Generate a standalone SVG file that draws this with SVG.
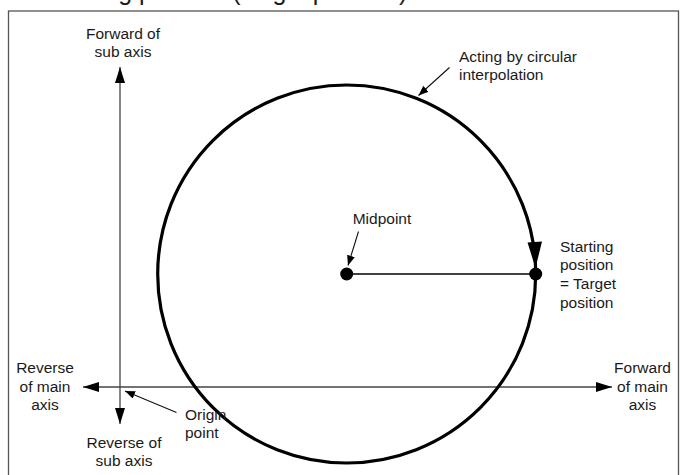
<svg xmlns="http://www.w3.org/2000/svg" width="680" height="475" viewBox="0 0 680 475">
<defs>
<style>
text{font-family:"Liberation Sans",Arial,sans-serif;font-size:15.5px;fill:#1a1a1a}
.c{text-anchor:middle}
.axis{stroke:#444;stroke-width:1.3;fill:none}
.ptr{stroke:#111;stroke-width:1.1;fill:none}
</style>
<marker id="big" viewBox="0 0 16 10" refX="16" refY="5" markerWidth="16" markerHeight="10" markerUnits="userSpaceOnUse" orient="auto">
<path d="M0,0 L16,5 L0,10 Z" fill="#000"/>
</marker>
<marker id="small" viewBox="0 0 10 8" refX="10" refY="4" markerWidth="10" markerHeight="8" markerUnits="userSpaceOnUse" orient="auto">
<path d="M0,0 L10,4 L0,8 Z" fill="#000"/>
</marker>
</defs>
<rect x="0" y="0" width="680" height="475" fill="#fff"/>
<text x="46" y="0" style="font-size:25px">Starting position (single position)</text>
<rect x="8.5" y="11" width="670" height="480" fill="none" stroke="#555" stroke-width="1.3"/>
<g id="connectors">
<line class="axis" x1="120" y1="240" x2="120" y2="67" marker-end="url(#big)"/>
<line class="axis" x1="120" y1="240" x2="120" y2="424" marker-end="url(#big)"/>
<line class="axis" x1="350" y1="387" x2="83" y2="387" marker-end="url(#big)"/>
<line class="axis" x1="350" y1="387" x2="612" y2="387" marker-end="url(#big)"/>
<line class="ptr" x1="449.5" y1="67.5" x2="418.5" y2="95.5" marker-end="url(#small)"/>
<line class="ptr" x1="358.5" y1="231.5" x2="348" y2="265.5" marker-end="url(#small)"/>
<line class="ptr" x1="176.5" y1="412.5" x2="125" y2="391" marker-end="url(#small)"/>
<line x1="346.7" y1="274" x2="535.7" y2="274" stroke="#000" stroke-width="1.4"/>
</g>
<g id="circle">
<circle cx="346.7" cy="274" r="189" fill="none" stroke="#000" stroke-width="3.2"/>
<polygon points="535.5,268 527.5,242.5 542,241.5" fill="#000"/>
</g>
<g id="midpoint">
<circle cx="346.7" cy="274" r="6.5" fill="#000"/>
<text x="352.7" y="224">Midpoint</text>
</g>
<g id="start">
<circle cx="535.7" cy="274" r="6.5" fill="#000"/>
<text x="560" y="251.5">Starting</text>
<text x="560" y="270">position</text>
<text x="560" y="289">= Target</text>
<text x="560" y="307.5">position</text>
</g>
<g id="acting">
<text x="459" y="61.5">Acting by circular</text>
<text x="459" y="79.5">interpolation</text>
</g>
<g id="fwd-sub">
<text class="c" x="123" y="38.5">Forward of</text>
<text class="c" x="123" y="56.5">sub axis</text>
</g>
<g id="rev-sub">
<text class="c" x="124" y="447.5">Reverse of</text>
<text class="c" x="124" y="465.5">sub axis</text>
</g>
<g id="rev-main">
<text class="c" x="45" y="373">Reverse</text>
<text class="c" x="45" y="391.5">of main</text>
<text class="c" x="45" y="410">axis</text>
</g>
<g id="fwd-main">
<text class="c" x="642.5" y="373">Forward</text>
<text class="c" x="642.5" y="391.5">of main</text>
<text class="c" x="642.5" y="410">axis</text>
</g>
<g id="origin">
<text x="185" y="419.5">Origin</text>
<text x="185" y="437.5">point</text>
</g>
</svg>
